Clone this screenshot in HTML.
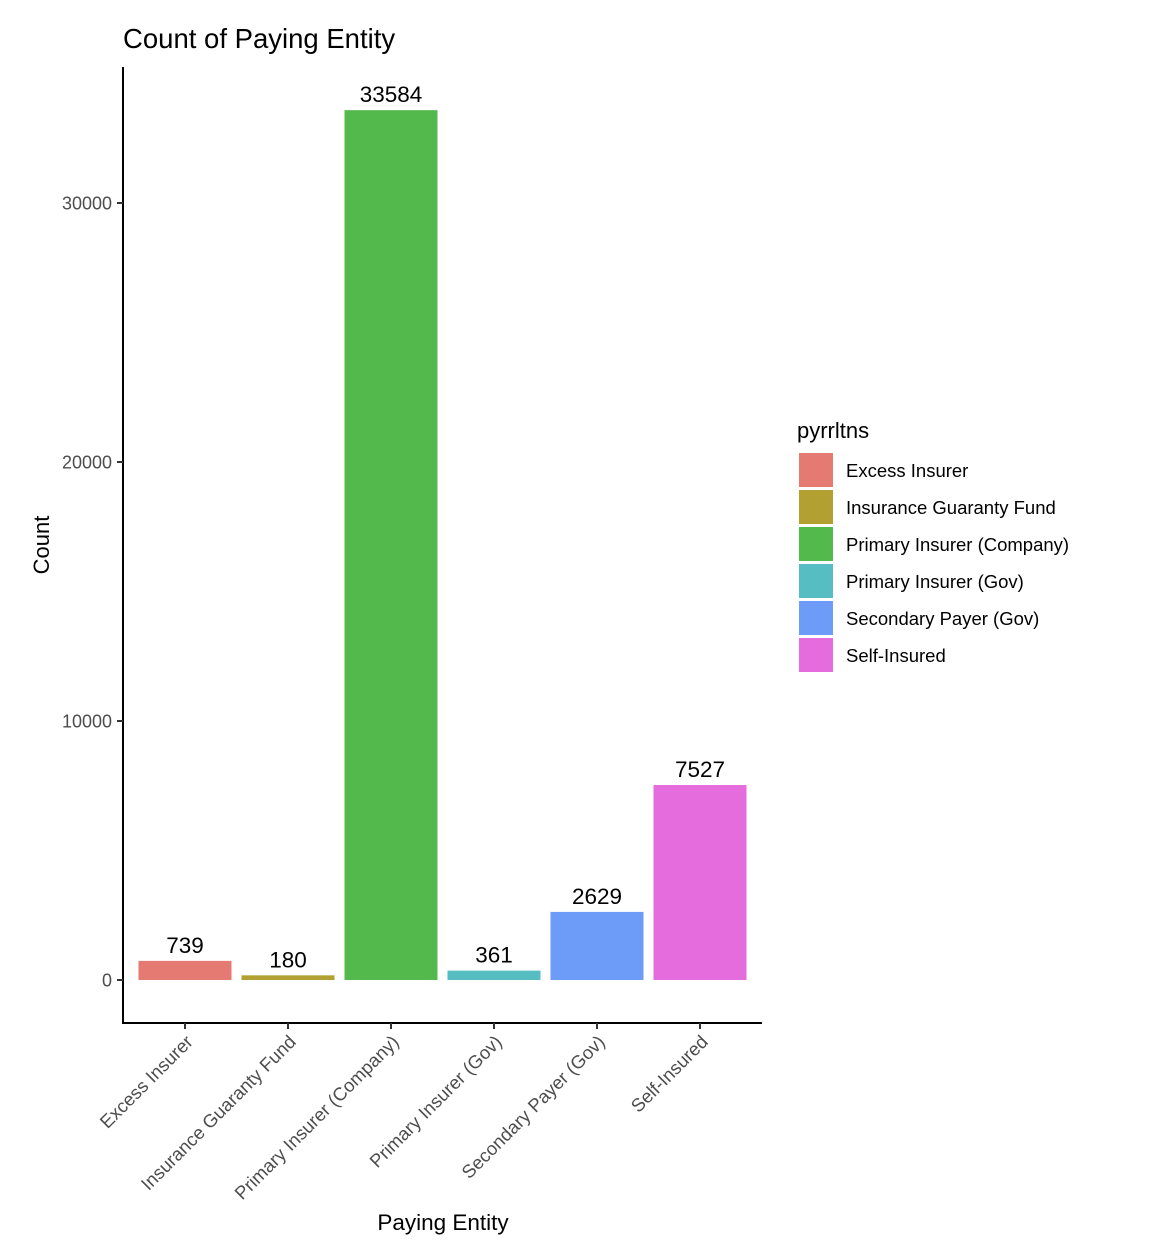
<!DOCTYPE html>
<html><head><meta charset="utf-8">
<style>
html,body{margin:0;padding:0;background:#fff;}
svg{display:block;font-family:"Liberation Sans",Arial,sans-serif;}
</style></head>
<body>
<svg id="chart" width="1170" height="1256" viewBox="0 0 1170 1256">
  <text x="123" y="48" font-size="27.5" fill="#000">Count of Paying Entity</text>
  <text transform="translate(49,545) rotate(-90)" text-anchor="middle" font-size="22" fill="#000">Count</text>
  <text x="443" y="1230" text-anchor="middle" font-size="22.5" fill="#000">Paying Entity</text>
  <g id="plot"></g>
  <g id="legend">
    <text x="797" y="438" font-size="22" fill="#000">pyrrltns</text>
  </g>
</svg>
<script>
const categories = ["Excess Insurer","Insurance Guaranty Fund","Primary Insurer (Company)","Primary Insurer (Gov)","Secondary Payer (Gov)","Self-Insured"];
const counts = [739,180,33584,361,2629,7527];
const yTicks = [0,10000,20000,30000];
const colors = ["#E57A72","#B3A033","#53B94C","#56BEC2","#6D9BF8","#E46CDD"];

const NS="http://www.w3.org/2000/svg";
const plot=document.getElementById('plot');
const legend=document.getElementById('legend');
function y(v){return 980 - v*0.0259;}
function xc(i){return 185 + i*103;}
function mk(tag,attrs,parent){const e=document.createElementNS(NS,tag);for(const k in attrs)e.setAttribute(k,attrs[k]);parent.appendChild(e);return e;}

counts.forEach((v,i)=>{
  const r=mk('rect',{x:xc(i)-46.5,y:y(v),width:93,height:y(0)-y(v),fill:colors[i]},plot);
  
  
  const t=mk('text',{x:xc(i),y:y(v)-8,'text-anchor':'middle','font-size':'22.5',fill:'#000'},plot);
  t.textContent=v;
  
  
});
const ya=mk('line',{x1:123,y1:67,x2:123,y2:1024,stroke:'#000','stroke-width':2},plot);


const xa=mk('line',{x1:122,y1:1023,x2:762,y2:1023,stroke:'#000','stroke-width':2},plot);


yTicks.forEach(v=>{
  const l=mk('line',{x1:117,y1:y(v),x2:123,y2:y(v),stroke:'#333','stroke-width':2},plot);
  
  
  const t=mk('text',{x:112,y:y(v)+6.5,'text-anchor':'end','font-size':'18',fill:'#4d4d4d'},plot);
  t.textContent=v;
  
  
});
categories.forEach((c,i)=>{
  const l=mk('line',{x1:xc(i),y1:1023,x2:xc(i),y2:1029,stroke:'#333','stroke-width':2},plot);
  
  
  const t=mk('text',{transform:'translate('+(xc(i)+9)+',1043) rotate(-45)','text-anchor':'end','font-size':'18.5',fill:'#4d4d4d'},plot);
  t.textContent=c;
  
  
});
categories.forEach((c,i)=>{
  const r=mk('rect',{x:799,y:453+i*37,width:34,height:34,fill:colors[i]},legend);
  
  
  const t=mk('text',{x:846,y:477+i*37,'font-size':'18.5',fill:'#000'},legend);
  t.textContent=c;
  
  
});
</script>
</body></html>
